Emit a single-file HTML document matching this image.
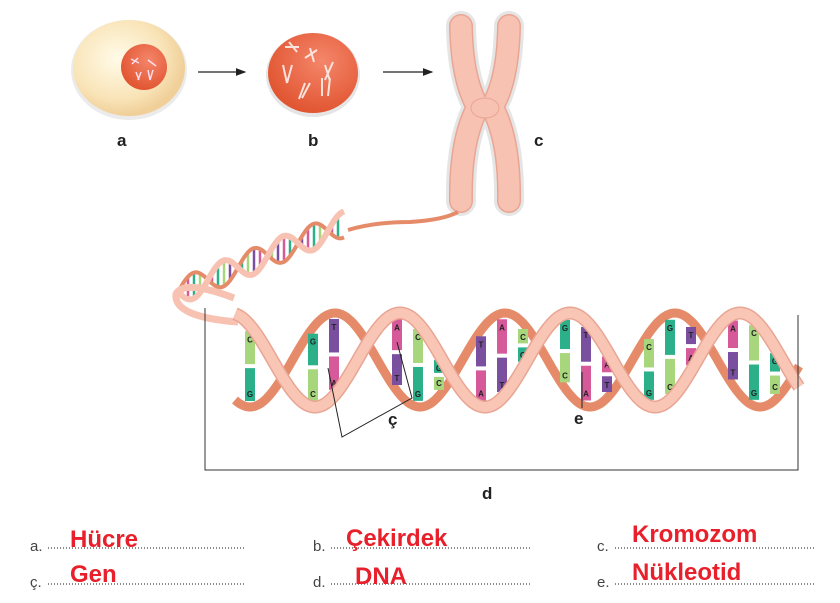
<!DOCTYPE html>
<html><head><meta charset="utf-8"><style>
body{margin:0;background:#fff;width:840px;height:603px;overflow:hidden;font-family:"Liberation Sans",sans-serif}
svg{display:block}
.lbl{font:bold 17px "Liberation Sans",sans-serif;fill:#222}
.q{font:15px "Liberation Sans",sans-serif;fill:#444}
.dots{stroke:#444;stroke-width:1.3;stroke-dasharray:1 2}
.ans{font:bold 24px "Liberation Sans",sans-serif;fill:#e8202b}
.bl{font:bold 8px "Liberation Sans",sans-serif;fill:#222;text-anchor:middle}
</style></head><body>
<svg id="s" width="840" height="603" viewBox="0 0 840 603">
<defs>
<radialGradient id="cg" cx="0.4" cy="0.4" r="0.6"><stop offset="0" stop-color="#fffbe8"/><stop offset="0.7" stop-color="#f9e4b8"/><stop offset="1" stop-color="#f0cf98"/></radialGradient>
<radialGradient id="ng" cx="0.6" cy="0.35" r="0.7"><stop offset="0" stop-color="#f4866a"/><stop offset="1" stop-color="#e0522e"/></radialGradient>
<marker id="ar" markerWidth="8" markerHeight="8" refX="7" refY="4" orient="auto"><path d="M0,1 L8,4 L0,7z" fill="#222"/></marker>
</defs>
<ellipse cx="129" cy="70" rx="58" ry="50" fill="#ddd" opacity="0.6"/>
<ellipse cx="129" cy="68" rx="56" ry="48" fill="url(#cg)"/>
<circle cx="144" cy="67" r="23" fill="url(#ng)"/>
<g stroke="#fde" stroke-width="1.5" fill="none"><path d="M131 59l8 4M138 58l-6 6M136 72l3 8M141 72l-3 8M148 70l2 10M153 70l-3 10M148 60l8 6"/></g>
<line x1="198" y1="72" x2="245" y2="72" stroke="#222" stroke-width="1.3" marker-end="url(#ar)"/>
<ellipse cx="313" cy="75" rx="47" ry="42" fill="#ccc" opacity="0.5"/>
<ellipse cx="313" cy="73" rx="45" ry="40" fill="url(#ng)"/>
<g stroke="#fbe3dc" stroke-width="2" fill="none"><path d="M285 47l14 0M289 42l8 10M305 58l12-8M310 48l4 14M283 65l4 18M292 65l-5 18M325 65l5 16M333 62l-8 18M305 83l-6 16M310 83l-8 15M322 78l0 18M330 78l-2 18"/></g>
<line x1="383" y1="72" x2="432" y2="72" stroke="#222" stroke-width="1.3" marker-end="url(#ar)"/>
<g fill="none" stroke-linecap="round">
<g stroke="#ccc" stroke-width="30" opacity="0.5"><path d="M461 26 Q462 80 478 107 Q460 140 461 201 M509 26 Q508 80 492 107 Q510 140 509 201"/></g>
<g stroke="#e9a593" stroke-width="24"><path d="M461 26 Q462 80 478 107 Q460 140 461 201 M509 26 Q508 80 492 107 Q510 140 509 201"/></g>
<g stroke="#f8c2b2" stroke-width="21"><path d="M461 26 Q462 80 478 107 Q460 140 461 201 M509 26 Q508 80 492 107 Q510 140 509 201"/></g>
</g>
<ellipse cx="485" cy="108" rx="14" ry="10" fill="#f8c2b2" stroke="#e9a593"/>
<text class="lbl" x="117" y="146">a</text><text class="lbl" x="308" y="146">b</text><text class="lbl" x="534" y="146">c</text>
<path d="M458 212 q-15 8-48 10 q-35 0-62 8" stroke="#e58b69" stroke-width="4" fill="none"/>
<g id="helix"></g>
<polyline points="205,308 205,470 798,470 798,315" fill="none" stroke="#333" stroke-width="1"/>
<polyline points="328,368 342,437 412,398 397,342" fill="none" stroke="#222" stroke-width="1"/>
<line x1="582" y1="372" x2="582" y2="408" stroke="#222" stroke-width="1"/>
<text class="lbl" x="388" y="425">ç</text><text class="lbl" x="574" y="424">e</text><text class="lbl" x="482" y="499">d</text>
<text class="q" x="30" y="551">a.</text><line class="dots" x1="48" y1="548" x2="245" y2="548"/><text class="ans" x="70" y="547">Hücre</text>
<text class="q" x="313" y="551">b.</text><line class="dots" x1="331" y1="548" x2="530" y2="548"/><text class="ans" x="346" y="546">Çekirdek</text>
<text class="q" x="597" y="551">c.</text><line class="dots" x1="615" y1="548" x2="815" y2="548"/><text class="ans" x="632" y="542">Kromozom</text>
<text class="q" x="30" y="587">ç.</text><line class="dots" x1="48" y1="584" x2="245" y2="584"/><text class="ans" x="70" y="582">Gen</text>
<text class="q" x="313" y="587">d.</text><line class="dots" x1="331" y1="584" x2="530" y2="584"/><text class="ans" x="355" y="584">DNA</text>
<text class="q" x="597" y="587">e.</text><line class="dots" x1="615" y1="584" x2="815" y2="584"/><text class="ans" x="632" y="580">Nükleotid</text>
</svg>
<script>
var g=document.getElementById('helix'),ns='http://www.w3.org/2000/svg';
function el(t,a){var e=document.createElementNS(ns,t);for(var k in a)e.setAttribute(k,a[k]);g.appendChild(e);return e;}
var P=170;
function ya(x){return 360-47*Math.cos(2*Math.PI*(x-400)/P);}
function yb(x){return 360-47*Math.cos(2*Math.PI*(x-335)/P);}
function path(f,x0,x1){var d='';for(var x=x0;x<=x1;x+=2)d+=(x==x0?'M':'L')+x+' '+f(x).toFixed(1);return d;}
function sa(x){var t=(x-178)/167;return 292-t*68+13*Math.sin(2*Math.PI*(x-178)/60);}
function sb(x){var t=(x-178)/167;return 292-t*68-13*Math.sin(2*Math.PI*(x-178)/60);}
var cols=['#2bb08a','#a8d67c','#7a4fa0','#d65a9a'];
for(var x=182;x<342;x+=6){if(Math.abs(sa(x)-sb(x))>6)el('line',{x1:x,y1:sa(x),x2:x,y2:sb(x),stroke:cols[(x/6|0)%4],'stroke-width':2.5});}
el('path',{d:path(sb,178,345),stroke:'#e58b69','stroke-width':4,fill:'none'});
el('path',{d:path(sa,178,345),stroke:'#f8c2b2','stroke-width':6,fill:'none'});
el('path',{d:'M238 322 q-65-5-62-28 q8-15 58 4',stroke:'#f8c2b2','stroke-width':7,fill:'none'});
el('path',{d:path(yb,235,800),stroke:'#e58b69','stroke-width':9,fill:'none'});
var cm={A:'#d65a9a',T:'#7a4fa0',G:'#2bb08a',C:'#a8d67c'};
var L='ATGC',pr={A:'T',T:'A',G:'C',C:'G'};
var i=0;
for(var x=250;x<=790;x+=21){var s=Math.abs(ya(x)-yb(x));if(s<40){continue;}
var b1=L[(i*7+3)%4],b2=pr[b1];i++;
var t=Math.min(ya(x),yb(x))+6,bo=Math.max(ya(x),yb(x))-6,m=(t+bo)/2;
el('rect',{x:x-5,y:t,width:10,height:m-t-2,fill:cm[b1]});el('rect',{x:x-5,y:m+2,width:10,height:bo-m-2,fill:cm[b2]});
var a=el('text',{x:x,y:t+11,'class':'bl'});a.textContent=b1;var c=el('text',{x:x,y:bo-4,'class':'bl'});c.textContent=b2;}
el('path',{d:path(ya,235,800),stroke:'#e9a593','stroke-width':13,fill:'none'});
el('path',{d:path(ya,235,800),stroke:'#f9c6b6','stroke-width':10,fill:'none'});
</script>
</body></html>
